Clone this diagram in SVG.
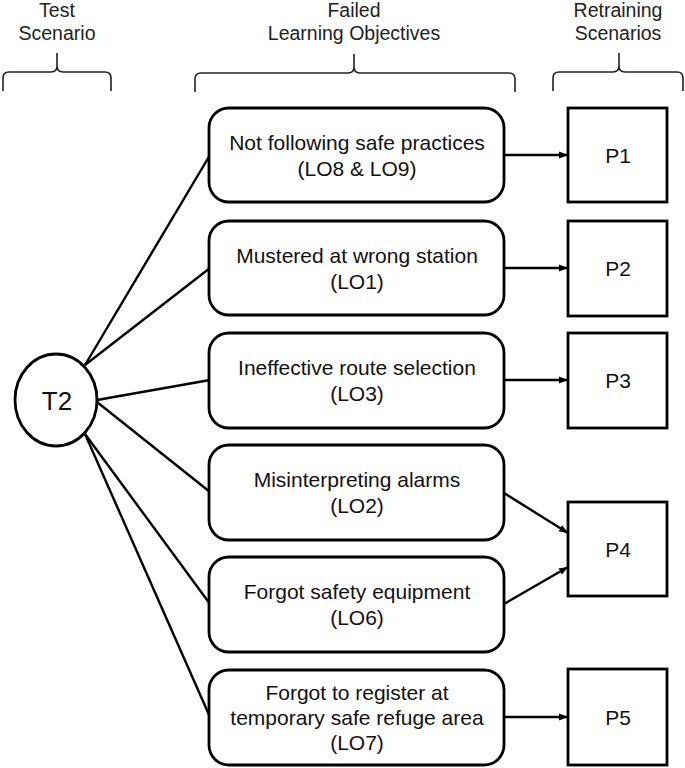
<svg xmlns="http://www.w3.org/2000/svg" width="685" height="768" viewBox="0 0 685 768">
<style>
text{font-family:"Liberation Sans",Arial,sans-serif;font-size:21px;fill:#111;text-anchor:middle}
.hdr{fill:#222;font-size:19.5px}
.brace{fill:none;stroke:#222;stroke-width:1.6}
.lo{fill:#fff;stroke:#000;stroke-width:2.8}
.p{fill:#fff;stroke:#000;stroke-width:2.8}
.edge{fill:none;stroke:#000;stroke-width:2.4}
.arr{fill:none;stroke:#000;stroke-width:2.4;marker-end:url(#ah)}
</style>
<defs>
<marker id="ah" markerWidth="9" markerHeight="8" refX="9" refY="4" orient="auto" markerUnits="userSpaceOnUse">
<path d="M0,0.5 L9,4 L0,7.5 Z" fill="#000"/>
</marker>
</defs>
<g id="headers">
<text class="hdr" x="57" y="17">Test</text>
<text class="hdr" x="57" y="40">Scenario</text>
<path class="brace" d="M3,91 V78 Q3,72 9,72 H51 Q57,72 57,66 V53 M57,66 Q57,72 63,72 H105 Q111,72 111,78 V91"/>
<text class="hdr" x="354" y="17">Failed</text>
<text class="hdr" x="354" y="40">Learning Objectives</text>
<path class="brace" d="M195,92 V79 Q195,73 201,73 H348 Q354,73 354,67 V54 M354,67 Q354,73 360,73 H509 Q515,73 515,79 V92"/>
<text class="hdr" x="618" y="17">Retraining</text>
<text class="hdr" x="618" y="40">Scenarios</text>
<path class="brace" d="M553,91 V78 Q553,72 559,72 H613 Q619,72 619,66 V53 M619,66 Q619,72 625,72 H677 Q683,72 683,78 V91"/>
</g>
<g id="connectors">
<line class="edge" x1="85" y1="365" x2="210" y2="155"/>
<line class="edge" x1="85" y1="365" x2="210" y2="268"/>
<line class="edge" x1="97" y1="400" x2="210" y2="380"/>
<line class="edge" x1="97" y1="402" x2="210" y2="492"/>
<line class="edge" x1="85" y1="434" x2="210" y2="604"/>
<line class="edge" x1="85" y1="434" x2="210" y2="717"/>
<line class="arr" x1="504" y1="155" x2="568" y2="155"/>
<line class="arr" x1="504" y1="268" x2="568" y2="268"/>
<line class="arr" x1="504" y1="380" x2="568" y2="380"/>
<line class="arr" x1="504" y1="493" x2="568" y2="533"/>
<line class="arr" x1="504" y1="604" x2="568" y2="567"/>
<line class="arr" x1="504" y1="717" x2="568" y2="717"/>
</g>
<g id="T2">
<ellipse cx="56" cy="400" rx="41" ry="46" fill="#fff" stroke="#000" stroke-width="2.8"/>
<text x="57" y="410" style="font-size:26px">T2</text>
</g>
<g id="LO89">
<rect class="lo" x="209" y="108" width="295" height="94" rx="20"/>
<text x="357" y="150">Not following safe practices</text>
<text x="357" y="176">(LO8 &amp; LO9)</text>
</g>
<g id="LO1">
<rect class="lo" x="209" y="221" width="295" height="94" rx="20"/>
<text x="357" y="263">Mustered at wrong station</text>
<text x="357" y="289">(LO1)</text>
</g>
<g id="LO3">
<rect class="lo" x="209" y="333" width="295" height="95" rx="20"/>
<text x="357" y="375">Ineffective route selection</text>
<text x="357" y="401">(LO3)</text>
</g>
<g id="LO2">
<rect class="lo" x="209" y="445" width="295" height="95" rx="20"/>
<text x="357" y="487">Misinterpreting alarms</text>
<text x="357" y="513">(LO2)</text>
</g>
<g id="LO6">
<rect class="lo" x="209" y="557" width="295" height="95" rx="20"/>
<text x="357" y="599">Forgot safety equipment</text>
<text x="357" y="625">(LO6)</text>
</g>
<g id="LO7">
<rect class="lo" x="209" y="670" width="295" height="95" rx="20"/>
<text x="357" y="700">Forgot to register at</text>
<text x="357" y="725">temporary safe refuge area</text>
<text x="357" y="750">(LO7)</text>
</g>
<g id="P1">
<rect class="p" x="568" y="108" width="99" height="94"/>
<text x="618" y="163">P1</text>
</g>
<g id="P2">
<rect class="p" x="568" y="221" width="99" height="95"/>
<text x="618" y="276">P2</text>
</g>
<g id="P3">
<rect class="p" x="568" y="333" width="99" height="95"/>
<text x="618" y="388">P3</text>
</g>
<g id="P4">
<rect class="p" x="568" y="502" width="99" height="94"/>
<text x="618" y="557">P4</text>
</g>
<g id="P5">
<rect class="p" x="568" y="669" width="99" height="96"/>
<text x="618" y="725">P5</text>
</g>
</svg>
